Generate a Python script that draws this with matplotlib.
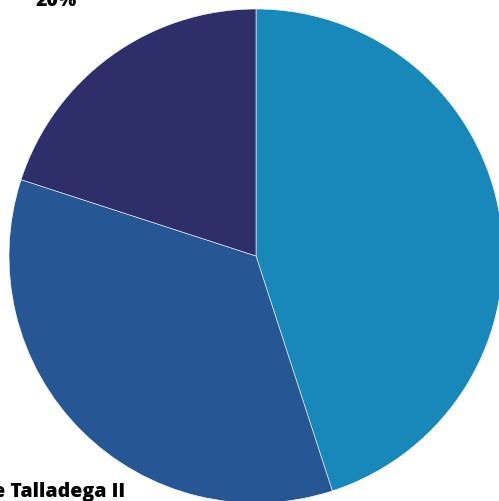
import matplotlib
matplotlib.use("Agg")
import matplotlib.pyplot as plt

categories = ["Lake Talladega I", "Lake Talladega II", "Lake Talladega III"]
values = [45, 35, 20]
colors = ["#1887b9", "#265794", "#2e2e6b"]

W, H = 499, 502
fig = plt.figure(figsize=(W / 100, H / 100), dpi=100)
ax = fig.add_axes([0, 0, 1, 1])
cx, cy, r = 256, 245, 247
ax.pie(values, colors=colors, startangle=90, counterclock=False,
       radius=1, center=(0, 0),
       wedgeprops=dict(edgecolor="white", linewidth=0.4))
ax.set_xlim(-cx / r, (W - cx) / r)
ax.set_ylim(-cy / r, (H - cy) / r)
ax.set_aspect("equal")
ax.axis("off")

def px(x, y):
    return (x - cx) / r, (H - y - cy) / r

fam = ["Open Sans", "DejaVu Sans"]
x, y = px(56, 6)
ax.text(x, y, f"{values[2]}%", ha="center", va="baseline", fontsize=14,
        fontweight=800, family=fam, color="black")
x, y = px(125, 497)
ax.text(x, y, categories[1], ha="right", va="baseline", fontsize=14,
        fontweight=800, family=fam, color="black")

fig.savefig("out.png", dpi=100)
